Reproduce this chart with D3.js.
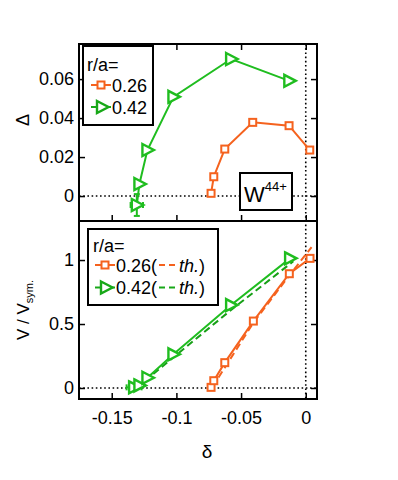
<!DOCTYPE html>
<html><head><meta charset="utf-8">
<script src="https://cdn.jsdelivr.net/npm/d3@7"></script>
<style>
body{margin:0;background:#fff;}
text{font-family:"Liberation Sans",Arial,sans-serif;}
</style></head><body>
<svg id="c" width="398" height="480"></svg>
<script>
// ---- data ----
const xTicks = [-0.15, -0.1, -0.05, 0];
const topTicks = [0, 0.02, 0.04, 0.06];
const botTicks = [0, 0.5, 1];
const seriesLabels = ["0.26", "0.42"];
// top panel: Delta vs delta
const topOrangeX = [-0.0732, -0.0711, -0.0626, -0.041, -0.0129, 0.0031];
const topOrangeY = [0.0014, 0.0099, 0.0241, 0.0378, 0.0361, 0.0236];
const topGreenX = [-0.1306, -0.1286, -0.1224, -0.1023, -0.0577, -0.0127];
const topGreenY = [-0.0046, 0.0062, 0.0236, 0.0509, 0.0703, 0.0591];
const topGreenErrX = [0.0048, 0, 0, 0, 0, 0];
const topGreenErrY = [0.0056, 0, 0, 0, 0, 0];
// bottom panel: V/Vsym vs delta
const botOrangeX = [-0.0732, -0.0711, -0.0626, -0.0405, -0.0127, 0.0033];
const botOrangeY = [0.005, 0.057, 0.198, 0.523, 0.893, 1.013];
const botGreenX = [-0.1327, -0.1286, -0.1224, -0.1023, -0.0577, -0.0121];
const botGreenY = [0.005, 0.02, 0.08, 0.263, 0.648, 1.013];
const botGreenErrX = [0.0058, 0, 0, 0, 0, 0];
// theory (dashed)
const thOrangeX = [-0.072, -0.0405, -0.0127, 0.0045];
const thOrangeY = [0.01, 0.51, 0.88, 1.1];
const thGreenX = [-0.131, -0.0577, -0.0096];
const thGreenY = [0, 0.61, 0.99];

const ORANGE = "#f5621e", GREEN = "#1fbd1f";
const svg = d3.select("#c");
const L = 79, R = 317, T = 44, M = 221, B = 399;
const x = d3.scaleLinear().domain([-0.1753, 0.0087]).range([L, R]);
const yT = d3.scaleLinear().domain([-0.0128, 0.078]).range([M, T]);
const yB = d3.scaleLinear().domain([-0.086, 1.305]).range([B, M]);
const fmt = d => `${+d.toFixed(3)}`;
const FS = 18;

function styleAxis(g){
  g.select(".domain").remove();
  g.selectAll(".tick line").attr("stroke","#000").attr("stroke-width",1.5);
  g.selectAll("text").attr("font-size",FS).attr("font-family","Liberation Sans, Arial, sans-serif").attr("fill","#000");
}
function dotted(x1,y1,x2,y2){
  svg.append("line").attr("x1",x1).attr("y1",y1).attr("x2",x2).attr("y2",y2)
    .attr("stroke","#000").attr("stroke-width",1.6).attr("stroke-dasharray","1.6,2.6");
}
dotted(L, yT(0), R, yT(0));
dotted(L, yB(0), R, yB(0));
dotted(x(0), T, x(0), B);

svg.append("g").attr("transform",`translate(${L},0)`).call(d3.axisLeft(yT).tickValues(topTicks).tickSize(-6).tickPadding(5).tickFormat(fmt)).call(styleAxis);
svg.append("g").attr("transform",`translate(${R},0)`).call(d3.axisRight(yT).tickValues(topTicks).tickSize(-6).tickFormat("")).call(styleAxis);
svg.append("g").attr("transform",`translate(0,${T})`).call(d3.axisTop(x).tickValues(xTicks).tickSize(-6).tickFormat("")).call(styleAxis);
svg.append("g").attr("transform",`translate(0,${M})`).call(d3.axisBottom(x).tickValues(xTicks).tickSize(-6).tickFormat("")).call(styleAxis);
svg.append("g").attr("transform",`translate(${L},0)`).call(d3.axisLeft(yB).tickValues(botTicks).tickSize(-6).tickPadding(5).tickFormat(fmt)).call(styleAxis);
svg.append("g").attr("transform",`translate(${R},0)`).call(d3.axisRight(yB).tickValues(botTicks).tickSize(-6).tickFormat("")).call(styleAxis);
svg.append("g").attr("transform",`translate(0,${B})`).call(d3.axisBottom(x).tickValues(xTicks).tickSize(-6).tickPadding(12).tickFormat(fmt)).call(styleAxis);

svg.append("rect").attr("x",L).attr("y",T).attr("width",R-L).attr("height",B-T).attr("fill","none").attr("stroke","#000").attr("stroke-width",2);
svg.append("line").attr("x1",L).attr("x2",R).attr("y1",M).attr("y2",M).attr("stroke","#000").attr("stroke-width",2);

function square(g,cx,cy,color){
  g.append("rect").attr("x",cx-3.5).attr("y",cy-3.5).attr("width",7).attr("height",7)
    .attr("fill","#fff").attr("stroke",color).attr("stroke-width",2);
}
function tri(g,cx,cy,color){
  g.append("path").attr("d",`M${cx-5},${cy-6}L${cx+6.5},${cy}L${cx-5},${cy+6}Z`)
    .attr("fill","#fff").attr("stroke",color).attr("stroke-width",2.4).attr("stroke-linejoin","miter");
}
const line = (ys) => d3.line().x(d=>x(d[0])).y(d=>ys(d[1]));
function series(xs, vals, ys, color, marker, dash){
  const pts = xs.map((v,i)=>[v, vals[i]]);
  svg.append("path").datum(pts).attr("d",line(ys)).attr("fill","none").attr("stroke",color)
    .attr("stroke-width",2).attr("stroke-dasharray",dash||null);
  if(marker){ const g = svg.append("g"); pts.forEach(p=>marker(g,x(p[0]),ys(p[1]),color)); }
}
function errbars(xs, vals, ys, ex, ey, color){
  xs.forEach((v,i)=>{
    const cx=x(v), cy=ys(vals[i]);
    if(ex[i]>0){
      const a=x(v-ex[i]), b=x(v+ex[i]);
      svg.append("line").attr("x1",a).attr("x2",b).attr("y1",cy).attr("y2",cy).attr("stroke",color).attr("stroke-width",2);
      [a,b].forEach(p=>svg.append("line").attr("x1",p).attr("x2",p).attr("y1",cy-3).attr("y2",cy+3).attr("stroke",color).attr("stroke-width",2));
    }
    if(ey && ey[i]>0){
      const a=ys(vals[i]-ey[i]), b=ys(vals[i]+ey[i]);
      svg.append("line").attr("x1",cx).attr("x2",cx).attr("y1",a).attr("y2",b).attr("stroke",color).attr("stroke-width",2);
      [a,b].forEach(p=>svg.append("line").attr("x1",cx-3).attr("x2",cx+3).attr("y1",p).attr("y2",p).attr("stroke",color).attr("stroke-width",2));
    }
  });
}
errbars(topGreenX, topGreenY, yT, topGreenErrX, topGreenErrY, GREEN);
series(topOrangeX, topOrangeY, yT, ORANGE, square);
series(topGreenX, topGreenY, yT, GREEN, tri);
series(thOrangeX, thOrangeY, yB, ORANGE, null, "7,4");
series(thGreenX, thGreenY, yB, "#17a017", null, "7,4");
errbars(botGreenX, botGreenY, yB, botGreenErrX, null, GREEN);
series(botOrangeX, botOrangeY, yB, ORANGE, square);
series(botGreenX, botGreenY, yB, GREEN, tri);

// top legend
svg.append("rect").attr("x",83).attr("y",46).attr("width",70).attr("height",79).attr("fill","#fff").attr("stroke","#000").attr("stroke-width",2);
svg.append("text").attr("x",87).attr("y",71).attr("font-size",FS).text("r/a=");
[ORANGE, "#18a818"].forEach((c,i)=>{
  const yy = 85 + i*22;
  svg.append("line").attr("x1",91).attr("x2",111).attr("y1",yy).attr("y2",yy).attr("stroke",c).attr("stroke-width",2);
  if(i===0) square(svg,101,yy,c); else tri(svg,102,yy,c);
  svg.append("text").attr("x",112).attr("y",yy+6.5).attr("font-size",FS).text(seriesLabels[i]);
});
// W44+ box
svg.append("rect").attr("x",240).attr("y",173).attr("width",52).attr("height",37).attr("fill","#fff").attr("stroke","#000").attr("stroke-width",2);
const wt = svg.append("text").attr("x",244).attr("y",202).attr("font-size",22);
wt.append("tspan").text("W");
wt.append("tspan").attr("font-size",13).attr("dy",-11).text("44+");

// bottom legend
svg.append("rect").attr("x",88).attr("y",229).attr("width",130).attr("height",76).attr("fill","#fff").attr("stroke","#000").attr("stroke-width",2);
svg.append("text").attr("x",93).attr("y",252).attr("font-size",FS).text("r/a=");
[ORANGE, "#18a818"].forEach((c,i)=>{
  const yy = 265 + i*22.5;
  svg.append("line").attr("x1",95).attr("x2",115).attr("y1",yy).attr("y2",yy).attr("stroke",c).attr("stroke-width",2);
  if(i===0) square(svg,105,yy,c); else tri(svg,106,yy,c);
  const t = svg.append("text").attr("x",116).attr("y",yy+6.5).attr("font-size",FS);
  t.append("tspan").text(seriesLabels[i]+"(");
  t.append("tspan").attr("dx",22).attr("font-style","italic").text("th.");
  t.append("tspan").text(")");
  svg.append("line").attr("x1",159).attr("x2",176).attr("y1",yy).attr("y2",yy).attr("stroke",c).attr("stroke-width",2).attr("stroke-dasharray","6,4");
});

// axis titles
svg.append("text").attr("transform","translate(29,120) rotate(-90)").attr("text-anchor","middle").attr("font-size",18).text("Δ");
const vt = svg.append("text").attr("transform","translate(29,310) rotate(-90)").attr("text-anchor","middle").attr("font-size",17);
vt.append("tspan").text("V / V");
vt.append("tspan").attr("font-size",11).attr("dy",4).text("sym.");
svg.append("text").attr("x",207).attr("y",458).attr("text-anchor","middle").attr("font-size",19)
  .attr("font-family","Liberation Serif, Times New Roman, serif").text("δ");
</script>
</body></html>
